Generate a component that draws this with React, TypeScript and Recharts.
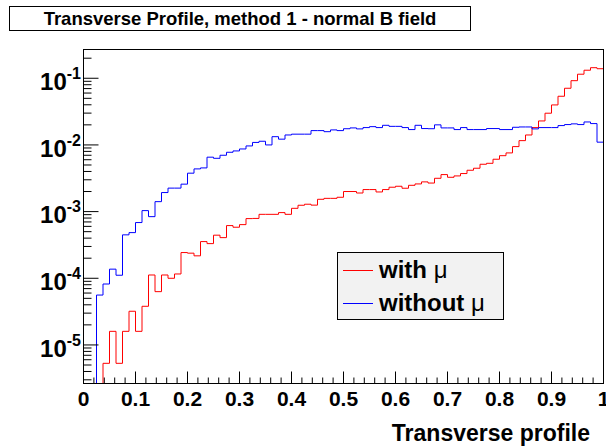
import { Line, LineChart, XAxis, YAxis } from "recharts";

// 80 bins over [0, 1]
const BIN_WIDTH = 0.0125;

const withMu = [
  0, 0, 0, 5.3e-6, 1.6e-5, 5.3e-6, 1.6e-5, 3.2e-5, 1.6e-5, 3.8e-5,
  1.12e-4, 6.3e-5, 1.12e-4, 1.0e-4, 1.16e-4, 2.43e-4, 2.38e-4, 2.17e-4, 3.55e-4, 3.31e-4,
  4.43e-4, 4.07e-4, 6.17e-4, 5.83e-4, 6.38e-4, 7.85e-4, 7.9e-4, 9.1e-4, 9.1e-4, 9.1e-4,
  9.66e-4, 9.1e-4, 1.12e-3, 1.245e-3, 1.29e-3, 1.25e-3, 1.53e-3, 1.58e-3, 1.58e-3, 1.64e-3,
  2.0e-3, 2.0e-3, 1.9e-3, 2.14e-3, 2.14e-3, 1.97e-3, 2.14e-3, 2.32e-3, 2.4e-3, 2.24e-3,
  2.48e-3, 2.6e-3, 2.79e-3, 2.68e-3, 3.16e-3, 3.59e-3, 3.27e-3, 3.43e-3, 3.72e-3, 4.17e-3,
  4.47e-3, 5.13e-3, 5.3e-3, 6.1e-3, 6.9e-3, 7.59e-3, 9.44e-3, 1.16e-2, 1.41e-2, 1.82e-2,
  2.29e-2, 2.99e-2, 3.98e-2, 5.37e-2, 7.08e-2, 9.2e-2, 0.115, 0.132, 0.144, 0.139,
];

const withoutMu = [
  0, 0, 5.6e-5, 8.2e-5, 1.37e-4, 1.11e-4, 4.48e-4, 4.84e-4, 6.85e-4, 1.035e-3,
  8.4e-4, 1.41e-3, 1.93e-3, 2.25e-3, 2.25e-3, 2.58e-3, 3.77e-3, 4.37e-3, 4.52e-3, 6.55e-3,
  6.3e-3, 7.0e-3, 7.76e-3, 8.13e-3, 8.7e-3, 9.66e-3, 1.09e-2, 1.135e-2, 1.0e-2, 1.33e-2,
  1.22e-2, 1.41e-2, 1.45e-2, 1.45e-2, 1.45e-2, 1.64e-2, 1.64e-2, 1.58e-2, 1.68e-2, 1.64e-2,
  1.75e-2, 1.8e-2, 1.74e-2, 1.82e-2, 1.88e-2, 1.82e-2, 1.97e-2, 1.9e-2, 1.9e-2, 1.82e-2,
  1.7e-2, 1.97e-2, 1.76e-2, 1.75e-2, 2.0e-2, 1.8e-2, 1.8e-2, 1.7e-2, 1.82e-2, 1.7e-2,
  1.7e-2, 1.7e-2, 1.76e-2, 1.76e-2, 1.7e-2, 1.7e-2, 1.84e-2, 1.86e-2, 1.86e-2, 1.74e-2,
  1.82e-2, 1.82e-2, 1.82e-2, 1.95e-2, 2.02e-2, 2.07e-2, 2.02e-2, 2.21e-2, 2.09e-2, 1.1e-2,
];

const xTickLabels = ["0", "0.1", "0.2", "0.3", "0.4", "0.5", "0.6", "0.7", "0.8", "0.9", "1"];

const TITLE = "Transverse Profile, method 1 - normal B field";
const X_TITLE = "Transverse profile";
const series = [
  { key: "red", word: "with ", sym: "μ", color: "#ff0000" },
  { key: "blue", word: "without ", sym: "μ", color: "#0000ff" },
];

const W = 606;
const H = 448;
const PLOT_L = 83.5;
const PLOT_R = 603.5;
const PLOT_T = 49.5;
const PLOT_B = 383.5;
const Y_MIN = 2.64e-6;
const Y_MAX = 0.27;
const FONT = '"Liberation Sans", Arial, Helvetica, sans-serif';

// empty bins sit on the bottom of the frame, like ROOT does on a log axis
const floor = (v: number) => (v > 0 ? v : Y_MIN);

const data = withMu.map((v, i) => ({
  x: i * BIN_WIDTH,
  red: floor(v),
  blue: floor(withoutMu[i]),
}));
data.push({
  x: 1,
  red: floor(withMu[withMu.length - 1]),
  blue: floor(withoutMu[withoutMu.length - 1]),
});

const xTicks = Array.from({ length: 51 }, (_, i) => +(i * 0.02).toFixed(2));

const yTicks: number[] = [];
for (let e = -6; e <= -1; e++) {
  for (let m = 1; m <= 9; m++) {
    const v = m * Math.pow(10, e);
    if (v >= Y_MIN && v <= Y_MAX) yTicks.push(v);
  }
}

function XTick(props: any) {
  const { x, payload } = props;
  const v = payload.value as number;
  const major = Math.abs(v * 10 - Math.round(v * 10)) < 1e-6;
  return (
    <g>
      <line x1={x} x2={x} y1={PLOT_B} y2={PLOT_B - (major ? 12 : 6)} stroke="#000" />
      {major && (
        <text
          x={x}
          y={PLOT_B + 22}
          textAnchor="middle"
          fontFamily={FONT}
          fontWeight="bold"
          fontSize={21}
          fill="#000"
        >
          {xTickLabels[Math.round(v * 10)]}
        </text>
      )}
    </g>
  );
}

function YTick(props: any) {
  const { y, payload } = props;
  const v = payload.value as number;
  const lg = Math.log10(v);
  const major = Math.abs(lg - Math.round(lg)) < 1e-6;
  return (
    <g>
      <line x1={PLOT_L} x2={PLOT_L + (major ? 15 : 8)} y1={y} y2={y} stroke="#000" />
      {major && (
        <text
          x={81}
          y={y + 11.7}
          textAnchor="end"
          fontFamily={FONT}
          fontWeight="bold"
          fontSize={24}
          fill="#000"
        >
          10
          <tspan dy={-11} fontSize={16}>
            {String(Math.round(lg))}
          </tspan>
        </text>
      )}
    </g>
  );
}

export default function App() {
  return (
    <div
      style={{
        position: "absolute",
        left: 0,
        top: 0,
        width: W,
        height: H,
        background: "#fff",
        fontFamily: FONT,
      }}
    >
      <LineChart
        width={W}
        height={H}
        data={data}
        margin={{ top: PLOT_T, right: W - PLOT_R, bottom: 0, left: 0 }}
      >
        <XAxis
          type="number"
          dataKey="x"
          domain={[0, 1]}
          ticks={xTicks}
          interval={0}
          allowDataOverflow
          axisLine={false}
          tickLine={false}
          height={H - PLOT_B}
          tick={(p: any) => <XTick {...p} />}
        />
        <YAxis
          type="number"
          scale="log"
          domain={[Y_MIN, Y_MAX]}
          ticks={yTicks}
          interval={0}
          allowDataOverflow
          axisLine={false}
          tickLine={false}
          width={PLOT_L}
          tick={(p: any) => <YTick {...p} />}
        />
        {series.map((s) => (
          <Line
            key={s.key}
            type="stepAfter"
            dataKey={s.key}
            name={s.word + s.sym}
            stroke={s.color}
            strokeWidth={1}
            dot={false}
            activeDot={false}
            isAnimationActive={false}
          />
        ))}
      </LineChart>

      {/* frame */}
      <div
        style={{
          position: "absolute",
          left: 83,
          top: 49,
          width: 521,
          height: 335,
          boxSizing: "border-box",
          border: "1px solid #000",
          pointerEvents: "none",
        }}
      />

      {/* legend */}
      <div
        style={{
          position: "absolute",
          left: 337,
          top: 252,
          width: 167,
          height: 68,
          boxSizing: "border-box",
          border: "1px solid #000",
          background: "#f2f2f2",
        }}
      >
        {series.map((s, i) => (
          <div
            key={s.key}
            style={{
              position: "absolute",
              left: 0,
              top: i === 0 ? 3 : 36,
              height: 28,
              display: "flex",
              alignItems: "center",
              whiteSpace: "pre",
            }}
          >
            <span
              style={{
                display: "inline-block",
                marginLeft: 5,
                width: 30,
                height: 1,
                background: s.color,
              }}
            />
            <span style={{ marginLeft: 6, fontSize: 24, fontWeight: "bold", color: "#000" }}>
              {s.word}
              <span style={{ fontWeight: "normal" }}>{s.sym}</span>
            </span>
          </div>
        ))}
      </div>

      {/* title box */}
      <div
        style={{
          position: "absolute",
          left: 9,
          top: 6,
          width: 462,
          height: 25,
          boxSizing: "border-box",
          border: "1px solid #000",
          background: "#fff",
          display: "flex",
          alignItems: "center",
          justifyContent: "center",
          fontSize: 18.5,
          fontWeight: "bold",
          whiteSpace: "nowrap",
        }}
      >
        {TITLE}
      </div>

      {/* x axis title */}
      <div
        style={{
          position: "absolute",
          right: W - 590,
          top: 420,
          fontSize: 23,
          fontWeight: "bold",
          whiteSpace: "nowrap",
          lineHeight: "26px",
        }}
      >
        {X_TITLE}
      </div>
    </div>
  );
}
